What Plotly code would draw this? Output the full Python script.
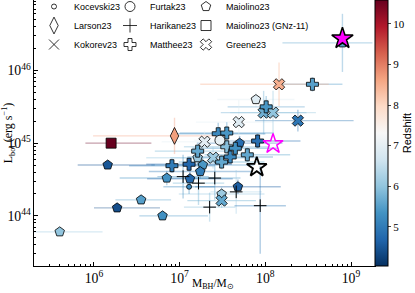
import plotly.graph_objects as go

# ---------------- data (log10 values) ----------------
# Maiolino23 (pentagons)
mai_m = [6.16, 6.85, 7.12, 6.55, 6.27, 6.80, 5.60, 7.89, 7.49, 7.68, 7.70, 8.90, 7.27, 7.24, 7.21]
mai_l = [44.70, 44.52, 44.51, 44.22, 44.11, 44.00, 43.78, 45.60, 44.30, 44.40, 45.00, 46.38, 44.70, 44.61, 44.80]
mai_z = [4.5, 5.3, 4.7, 5.5, 4.4, 5.3, 6.0, 6.9, 6.1, 4.6, 4.8, 5.5, 5.4, 5.0, 6.1]
mai_em_lo = [0.35, 0.55, 0.50, 0.30, 0.27, 0.27, 0.50, 0.45, 0.50, 0.50, 0.50, 0.70, 0.60, 0.60, 0.60]
mai_em_hi = [0.55, 0.55, 0.50, 0.35, 0.50, 0.53, 0.50, 0.45, 0.50, 0.50, 0.50, 0.35, 0.60, 0.60, 0.60]
mai_el = [0.05, 0.10, 0.10, 0.05, 0.05, 0.05, 0.05, 0.10, 0.10, 0.10, 0.10, 0.40, 0.10, 0.10, 0.10]

# Matthee23 (thick crosses)
mat_m = [6.91, 7.11, 7.45, 7.55, 7.21, 7.49, 7.55, 7.65, 7.59, 7.79, 7.91, 8.01, 8.55]
mat_l = [44.69, 44.71, 45.13, 45.14, 44.89, 44.74, 44.95, 44.93, 44.81, 44.84, 45.03, 45.50, 45.81]
mat_z = [5.0, 4.7, 5.2, 5.4, 5.6, 5.6, 5.9, 5.3, 5.2, 5.6, 4.8, 5.4, 5.5]
mat_em = [0.50, 0.50, 0.55, 0.55, 0.50, 0.50, 0.50, 0.50, 0.50, 0.50, 0.50, 0.45, 0.35]
mat_el = [0.10, 0.10, 0.15, 0.15, 0.10, 0.10, 0.10, 0.10, 0.10, 0.10, 0.10, 0.15, 0.10]

# Greene23 (thick X)
gre_m = [8.16, 8.38, 7.69, 7.98, 8.09, 7.29, 7.39, 7.49]
gre_l = [45.81, 45.31, 45.29, 45.42, 45.42, 45.02, 44.80, 44.21]
gre_z = [8.5, 4.9, 6.9, 5.7, 6.0, 7.0, 6.1, 5.6]
gre_em_lo = [0.92, 0.50, 0.50, 0.50, 0.50, 0.50, 0.50, 0.40]
gre_em_hi = [0.58, 0.65, 0.40, 0.50, 0.50, 0.50, 0.50, 0.40]
gre_el = [0.30, 0.15, 0.30, 0.30, 0.30, 0.15, 0.15, 0.10]

# Harikane23 (thin crosses)
har_m = [7.04, 7.22, 7.41, 7.66, 7.35, 7.94]
har_l = [44.54, 44.45, 44.52, 44.33, 44.12, 44.14]
har_z = [5.2, 5.6, 5.5, 6.2, 5.8, 5.0]
har_em = [0.30, 0.30, 0.30, 0.30, 0.30, 0.30]
har_el_lo = [0.30, 0.30, 0.30, 0.30, 0.20, 0.66]
har_el_hi = [0.30, 0.30, 0.30, 0.30, 0.20, 0.55]

# single objects
koc_m, koc_l, koc_z = [7.11], [44.40], [5.2]
fur_m, fur_l, fur_z = [7.47], [45.04], [7.04]
lar_m, lar_l, lar_z = [6.94], [45.10], [8.68]
gnz_m, gnz_l, gnz_z = [6.20], [45.00], [10.6]

# highlighted stars
star_m = [8.90, 8.09, 7.90]
star_l = [46.44, 44.99, 44.67]

# colour scale (RdBu reversed)
CMIN, CMAX = 4.03, 10.59
rdbu_r = ['#053061', '#2166ac', '#4393c3', '#92c5de', '#d1e5f0', '#f7f7f7',
          '#fddbc7', '#f4a582', '#d6604d', '#b2182b', '#67001f']
cscale = [[i / 10, c] for i, c in enumerate(rdbu_r)]


def hex2rgb(h):
    h = h.lstrip('#')
    return [int(h[i:i + 2], 16) for i in (0, 2, 4)]


def zcolor(z, alpha):
    t = min(max((z - CMIN) / (CMAX - CMIN), 0), 1) * 10
    i = min(int(t), 9)
    f = t - i
    a, b = hex2rgb(rdbu_r[i]), hex2rgb(rdbu_r[i + 1])
    c = [round(a[k] + (b[k] - a[k]) * f) for k in range(3)]
    return f'rgba({c[0]},{c[1]},{c[2]},{alpha})'


fig = go.Figure()


def add_err(ms, ls, zs, em_lo, em_hi, el_lo, el_hi):
    for m, l, z, a, b, c, d in zip(ms, ls, zs, em_lo, em_hi, el_lo, el_hi):
        col = zcolor(z, 0.38)
        fig.add_trace(go.Scatter(
            x=[10 ** m], y=[10 ** l], mode='markers',
            marker=dict(size=1, color='rgba(0,0,0,0)'),
            error_x=dict(type='data', symmetric=False,
                         array=[10 ** (m + b) - 10 ** m], arrayminus=[10 ** m - 10 ** (m - a)],
                         color=col, thickness=1.4, width=0),
            error_y=dict(type='data', symmetric=False,
                         array=[10 ** (l + d) - 10 ** l], arrayminus=[10 ** l - 10 ** (l - c)],
                         color=col, thickness=1.4, width=0),
            showlegend=False, hoverinfo='skip'))


add_err(mai_m, mai_l, mai_z, mai_em_lo, mai_em_hi, mai_el, mai_el)
add_err(mat_m, mat_l, mat_z, mat_em, mat_em, mat_el, mat_el)
add_err(gre_m, gre_l, gre_z, gre_em_lo, gre_em_hi, gre_el, gre_el)
add_err(har_m, har_l, har_z, har_em, har_em, har_el_lo, har_el_hi)
add_err(koc_m, koc_l, koc_z, [0.3], [0.3], [0.1], [0.1])
add_err(fur_m, fur_l, fur_z, [0.3], [0.3], [0.1], [0.1])
add_err(lar_m, lar_l, lar_z, [0.95], [0.6], [0.25], [0.25])
add_err(gnz_m, gnz_l, gnz_z, [0.30], [0.47], [0.02], [0.02])


def add_pts(ms, ls, zs, symbol, size, lw=0.8, showscale=False):
    fig.add_trace(go.Scatter(
        x=[10 ** m for m in ms], y=[10 ** l for l in ls], mode='markers',
        marker=dict(symbol=symbol, size=size, color=zs, colorscale=cscale,
                    cmin=CMIN, cmax=CMAX, line=dict(color='black', width=lw),
                    showscale=showscale,
                    colorbar=dict(x=1.0, xanchor='left', xpad=0, y=0.5, yanchor='middle',
                                  len=1, lenmode='fraction', ypad=0, thickness=13,
                                  outlinewidth=1, outlinecolor='black',
                                  tickvals=[5, 6, 7, 8, 9, 10], ticks='outside', ticklen=3,
                                  tickfont=dict(family='Liberation Serif', size=11, color='black'),
                                  title=dict(text='Redshift', side='right',
                                             font=dict(family='Liberation Sans', size=11, color='black')))),
        showlegend=False, hoverinfo='skip'))


add_pts(mai_m, mai_l, mai_z, 'pentagon', 10, showscale=True)
add_pts(gre_m, gre_l, gre_z, 'x', 10)
add_pts(mat_m, mat_l, mat_z, 'cross', 10)
add_pts(koc_m, koc_l, koc_z, 'circle', 5)
add_pts(fur_m, fur_l, fur_z, 'circle', 10)
add_pts(lar_m, lar_l, lar_z, 'diamond-tall', 12)
add_pts(gnz_m, gnz_l, gnz_z, 'square', 10)

# Harikane: black thin crosses
fig.add_trace(go.Scatter(x=[10 ** m for m in har_m], y=[10 ** l for l in har_l], mode='markers',
                         marker=dict(symbol='cross-thin', size=9, color='black',
                                     line=dict(color='black', width=1)),
                         showlegend=False, hoverinfo='skip'))

# stars
fig.add_trace(go.Scatter(x=[10 ** star_m[0]], y=[10 ** star_l[0]], mode='markers',
                         marker=dict(symbol='star', size=16, color='#ff00ff',
                                     line=dict(color='black', width=1.5)),
                         showlegend=False, hoverinfo='skip'))
fig.add_trace(go.Scatter(x=[10 ** star_m[1]], y=[10 ** star_l[1]], mode='markers',
                         marker=dict(symbol='star-open', size=15, color='#ff00ff',
                                     line=dict(color='#ff00ff', width=1.5)),
                         showlegend=False, hoverinfo='skip'))
fig.add_trace(go.Scatter(x=[10 ** star_m[2]], y=[10 ** star_l[2]], mode='markers',
                         marker=dict(symbol='star-open', size=15, color='black',
                                     line=dict(color='black', width=1.8)),
                         showlegend=False, hoverinfo='skip'))

# legend entries (3 columns via groups)
legend_names = ['Kocevski23', 'Larson23', 'Kokorev23',
                'Furtak23', 'Harikane23', 'Matthee23',
                'Maiolino23', 'Maiolino23 (GNz-11)', 'Greene23']
legend_symbols = ['circle', 'diamond-tall', 'x-thin',
                  'circle', 'cross-thin', 'cross',
                  'pentagon', 'square', 'x']
legend_sizes = [5, 12, 10, 10, 10, 10, 10, 10, 10]
for i, (nm, sy, sz) in enumerate(zip(legend_names, legend_symbols, legend_sizes)):
    fig.add_trace(go.Scatter(x=[None], y=[None], mode='markers', name=nm,
                             legendgroup=f'col{i // 3}',
                             marker=dict(symbol=sy, size=sz, color='white',
                                         line=dict(color='black', width=0.8))))
# empty spacer column so the long last-column labels are not clipped
fig.add_trace(go.Scatter(x=[None], y=[None], mode='markers', name=' ',
                         legendgroup='col3',
                         marker=dict(size=1, color='rgba(0,0,0,0)',
                                     line=dict(width=0))))

serif = 'Liberation Serif'
fig.update_layout(
    width=415, height=293,
    margin=dict(l=34, r=40, t=0, b=27, autoexpand=False),
    plot_bgcolor='white', paper_bgcolor='white',
    showlegend=True,
    legend=dict(orientation='h', traceorder='grouped', x=0.0, y=1.03,
                xanchor='left', yanchor='top', bgcolor='rgba(0,0,0,0)',
                font=dict(family='Liberation Sans', size=9, color='black'),
                entrywidth=31, tracegroupgap=0, itemwidth=30),
    xaxis=dict(type='log', range=[5.30, 9.28], dtick=1, exponentformat='power',
               automargin=False,
               showgrid=False, zeroline=False, showline=True, linecolor='black',
               linewidth=1, mirror=True, ticks='inside', ticklen=4, tickcolor='black',
               minor=dict(ticks='inside', ticklen=2, tickcolor='black', dtick='D1', showgrid=False),
               tickfont=dict(family=serif, size=11, color='black')),
    yaxis=dict(type='log', range=[43.31, 46.97], dtick=1, exponentformat='power',
               automargin=False,
               showgrid=False, zeroline=False, showline=True, linecolor='black',
               linewidth=1, mirror=True, ticks='inside', ticklen=4, tickcolor='black',
               minor=dict(ticks='inside', ticklen=2, tickcolor='black', dtick='D1', showgrid=False),
               tickfont=dict(family=serif, size=11, color='black'),
               title=dict(text='L<sub>bol</sub> (erg s<sup>−1</sup>)', standoff=0,
                          font=dict(family=serif, size=12, color='black'))),
    annotations=[dict(text='M<sub>BH</sub>/M<sub>⊙</sub>', xref='paper', yref='paper',
                      x=0.525, y=0, xanchor='center', yanchor='top', yshift=-9,
                      showarrow=False, font=dict(family=serif, size=11.5, color='black'))],
)

fig.write_html('out.html', config={'displayModeBar': False},
               post_script="document.body.style.margin='0px';")
